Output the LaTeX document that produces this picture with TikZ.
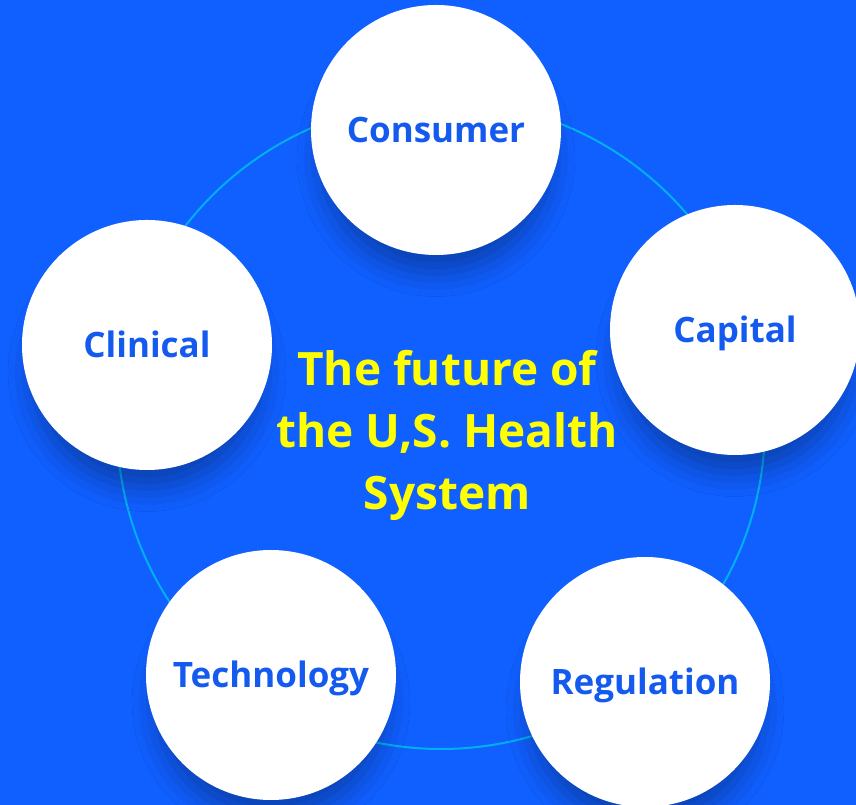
\documentclass[tikz,border=0pt]{standalone}
\usepackage{fontspec}
\setmainfont{Open Sans}
\usetikzlibrary{shadows.blur}

\begin{document}
\begin{tikzpicture}[x=1pt,y=1pt]
\definecolor{cbg}{rgb}{0.063,0.373,1.0}
\definecolor{cring}{rgb}{0.0,0.69,0.94}
\definecolor{clv}{rgb}{0.078,0.353,0.937}
\definecolor{cfv}{rgb}{1.0,1.0,1.0}
\definecolor{ctitle}{rgb}{1.0,1.0,0.0}
\tikzset{vtx/.style={circle,minimum size=250pt,inner sep=0pt,fill=cfv,text=clv,
  font=\fontsize{35}{42}\selectfont\bfseries,text height=25pt,text depth=0pt,
  blur shadow={shadow xshift=0pt,shadow yshift=-30pt,shadow scale=0.92,
  shadow blur radius=26pt,shadow opacity=32}}}
%
\fill[cbg] (0,0) rectangle (856,805);
\useasboundingbox (0,0) rectangle (856,805);
\draw[cring,line width=2pt] (441,380) circle[radius=324pt];
%
\node[vtx] (consumer) at (436,675) {Consumer};
\node[vtx] (capital) at (735,475) {Capital};
\node[vtx] (regulation) at (645,123) {Regulation};
\node[vtx] (technology) at (271,130) {Technology};
\node[vtx] (clinical) at (147,460) {Clinical};
%
\node[align=center,text=ctitle,font=\fontsize{46}{62}\selectfont\bfseries] (title)
  at (447,370) {The future of\\the U,S. Health\\System};
%
\end{tikzpicture}
\end{document}
